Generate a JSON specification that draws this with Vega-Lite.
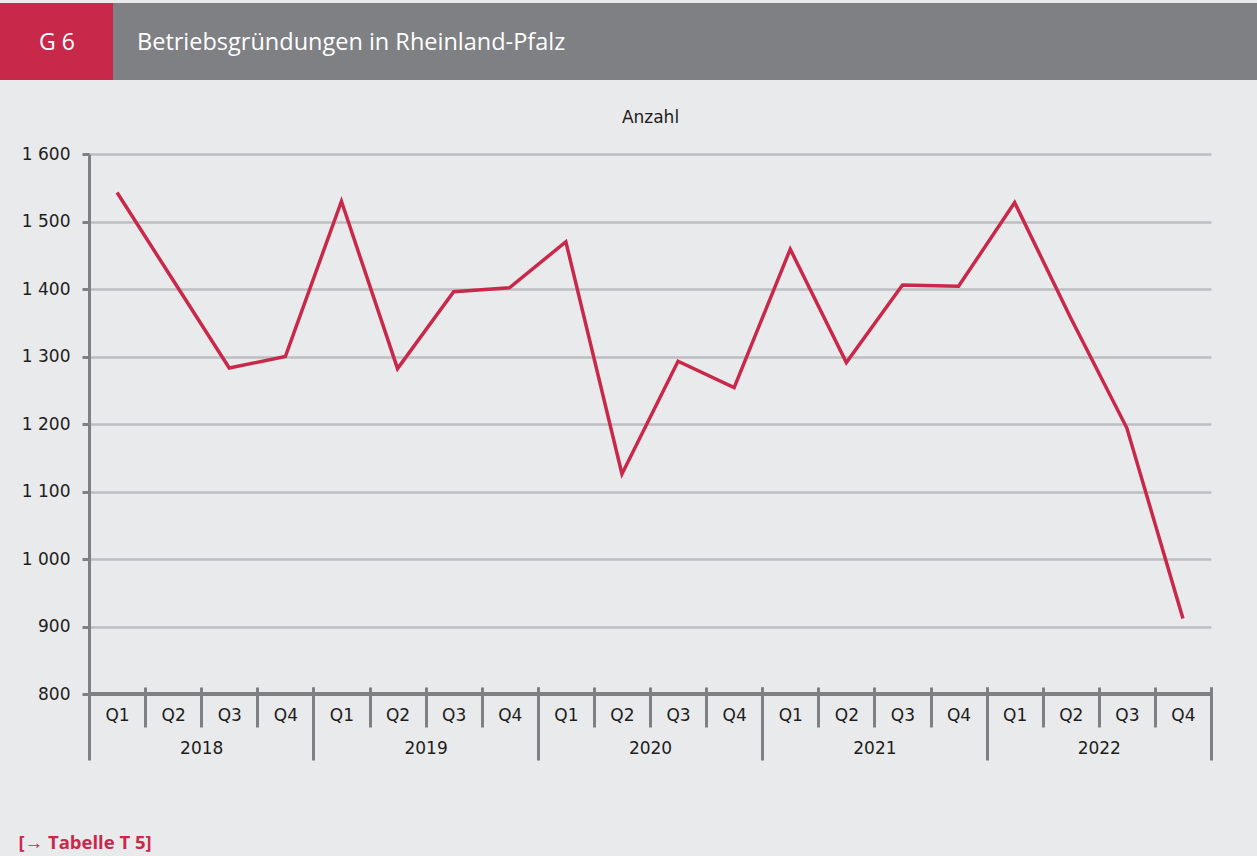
{
  "$schema": "https://vega.github.io/schema/vega-lite/v6.json",
  "background": "#e9eaec",
  "padding": {"top": 3, "left": 0, "right": 0, "bottom": 12},
  "config": {"font": "DejaVu Sans", "view": {"stroke": null}},
  "datasets": {
    "header": [{"code": "G 6", "title": "Betriebsgründungen in Rheinland-Pfalz"}],
    "quarters": [
      {"year": "2018", "quarter": "Q1", "period": "2018 Q1", "value": 1543},
      {"year": "2018", "quarter": "Q2", "period": "2018 Q2", "value": 1413},
      {"year": "2018", "quarter": "Q3", "period": "2018 Q3", "value": 1283},
      {"year": "2018", "quarter": "Q4", "period": "2018 Q4", "value": 1300},
      {"year": "2019", "quarter": "Q1", "period": "2019 Q1", "value": 1530},
      {"year": "2019", "quarter": "Q2", "period": "2019 Q2", "value": 1282},
      {"year": "2019", "quarter": "Q3", "period": "2019 Q3", "value": 1396},
      {"year": "2019", "quarter": "Q4", "period": "2019 Q4", "value": 1402},
      {"year": "2020", "quarter": "Q1", "period": "2020 Q1", "value": 1470},
      {"year": "2020", "quarter": "Q2", "period": "2020 Q2", "value": 1126},
      {"year": "2020", "quarter": "Q3", "period": "2020 Q3", "value": 1293},
      {"year": "2020", "quarter": "Q4", "period": "2020 Q4", "value": 1254},
      {"year": "2021", "quarter": "Q1", "period": "2021 Q1", "value": 1459},
      {"year": "2021", "quarter": "Q2", "period": "2021 Q2", "value": 1291},
      {"year": "2021", "quarter": "Q3", "period": "2021 Q3", "value": 1406},
      {"year": "2021", "quarter": "Q4", "period": "2021 Q4", "value": 1404},
      {"year": "2022", "quarter": "Q1", "period": "2022 Q1", "value": 1528},
      {"year": "2022", "quarter": "Q2", "period": "2022 Q2", "value": 1357},
      {"year": "2022", "quarter": "Q3", "period": "2022 Q3", "value": 1194},
      {"year": "2022", "quarter": "Q4", "period": "2022 Q4", "value": 912}
    ]
  },
  "spacing": 28,
  "vconcat": [
    {
      "width": 1168,
      "height": 77,
      "view": {"fill": null, "stroke": null},
      "data": {"name": "header"},
      "layer": [
        {
          "mark": {"type": "rect", "color": "#7f8084"},
          "encoding": {
            "x": {"datum": -89, "type": "quantitative", "scale": {"domain": [0, 1168], "nice": false, "zero": false}, "axis": null},
            "x2": {"datum": 1168}
          }
        },
        {
          "mark": {"type": "rect", "color": "#c8294b"},
          "encoding": {
            "x": {"datum": -89, "type": "quantitative"},
            "x2": {"datum": 24}
          }
        },
        {
          "mark": {"type": "text", "align": "center", "baseline": "middle", "color": "white", "fontSize": 23, "font": "Open Sans", "dy": 1},
          "encoding": {
            "text": {"field": "code"},
            "x": {"datum": -32, "type": "quantitative"}
          }
        },
        {
          "mark": {"type": "text", "align": "left", "baseline": "middle", "color": "white", "fontSize": 23.5, "font": "Open Sans", "dy": 1},
          "encoding": {
            "text": {"field": "title"},
            "x": {"datum": 48, "type": "quantitative"}
          }
        }
      ]
    },
    {
      "width": 1122,
      "height": 540,
      "view": {"fill": null, "stroke": null},
      "data": {"name": "quarters"},
      "layer": [
        {
          "mark": {"type": "rule", "color": "#808084", "strokeWidth": 3},
          "encoding": {"y": {"datum": 800, "type": "quantitative"}}
        },
        {
          "mark": {"type": "line", "color": "#c8294b", "strokeWidth": 3.5, "strokeJoin": "miter"},
          "encoding": {
            "x": {
              "field": "period", "type": "ordinal", "sort": null, "bandPosition": 0.5,
              "scale": {"type": "band", "paddingInner": 0, "paddingOuter": 0},
              "axis": {
                "orient": "bottom", "offset": -7, "domain": false, "grid": false,
                "tickBand": "extent", "tickSize": 40, "tickWidth": 3, "tickColor": "#808084",
                "labelExpr": "slice(datum.label, 5)", "labelFontSize": 17, "labelColor": "#1d1d1b",
                "labelPadding": -20, "labelAngle": 0,
                "title": " ", "titleX": -89, "titleY": 0, "titleAlign": "left", "titleFontSize": 10
              }
            },
            "y": {
              "field": "value", "type": "quantitative",
              "scale": {"domain": [800, 1600], "nice": false, "zero": false},
              "axis": {
                "values": [800, 900, 1000, 1100, 1200, 1300, 1400, 1500, 1600],
                "grid": true, "gridColor": "#bdbec2", "gridWidth": 2.5,
                "domainColor": "#808084", "domainWidth": 3,
                "tickSize": 7, "tickWidth": 3, "tickColor": "#808084",
                "labelFontSize": 17, "labelColor": "#1d1d1b", "labelPadding": 12,
                "labelExpr": "replace(format(datum.value, ','), ',', ' ')",
                "title": "Anzahl", "titleAngle": 0, "titleX": 561, "titleY": -37,
                "titleAlign": "center", "titleBaseline": "middle",
                "titleFontSize": 17, "titleFontWeight": "normal", "titleColor": "#1d1d1b"
              }
            }
          }
        },
        {
          "mark": {"type": "point", "opacity": 0},
          "encoding": {
            "x": {
              "field": "year", "type": "ordinal",
              "scale": {"type": "band", "paddingInner": 0, "paddingOuter": 0},
              "axis": {
                "orient": "bottom", "offset": -7, "domain": false, "grid": false,
                "tickBand": "extent", "tickSize": 73, "tickWidth": 3, "tickColor": "#808084",
                "labelFontSize": 17, "labelColor": "#1d1d1b", "labelPadding": -20, "labelAngle": 0,
                "title": "[→ Tabelle T 5]", "titleX": -71, "titleY": 155,
                "titleAlign": "left", "titleBaseline": "middle", "titleFont": "Open Sans",
                "titleColor": "#c8294b", "titleFontSize": 18.5, "titleFontWeight": "bold"
              }
            },
            "y": {"field": "value", "type": "quantitative"}
          }
        }
      ],
      "resolve": {"scale": {"x": "independent"}, "axis": {"x": "independent"}}
    }
  ]
}
